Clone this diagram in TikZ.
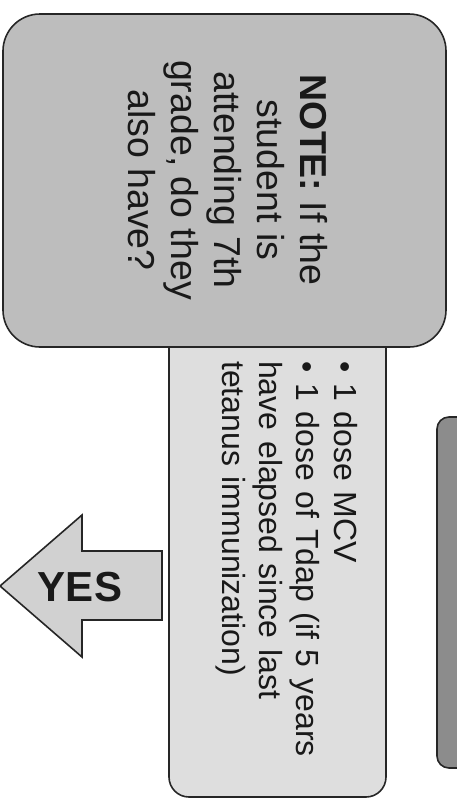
\documentclass[tikz,border=0pt]{standalone}
\usepackage{fontspec}
\setmainfont{Liberation Sans}
\begin{document}
\begin{tikzpicture}[x=1pt,y=-1pt,
    box/.style={draw=black!85,line width=1.6pt,rounded corners=#1},
    label/.style={text=black!90,inner sep=0pt}]
    \useasboundingbox (0,0) rectangle (457,804);
    \begin{scope}
        \clip (0,0) rectangle (457,804);
        \draw[box=12pt,fill=black!45] (437,417) rectangle (480,768);
    \end{scope}
    \draw[box=20pt,fill=black!13] (169,300) rectangle (386,797);
    \draw[box=37pt,fill=black!26] (3,14) rectangle (446,347);
    \draw[draw=black!85,line width=1.6pt,fill=black!18] (0,586) -- (82,515) -- (82,551) -- (162,551)
        -- (162,620) -- (82,620) -- (82,657) -- cycle;
    \node[label,rotate=-90,font=\fontsize{37.5}{43}\selectfont,align=center] (note) at (228,180)
        {\textbf{NOTE:} If the\\student is\\attending 7th\\grade, do they\\also have?};
    \node[label,rotate=-90,font=\fontsize{32}{37.3}\selectfont,text width=400pt,anchor=base west] (doses) at (334,361)
        {\parindent=0pt\makebox[22pt][l]{\textbullet}1 dose MCV\par
         \hangindent=22pt\hangafter=1\makebox[22pt][l]{\textbullet}1 dose of Tdap (if 5 years have elapsed since last tetanus immunization)};
    \node[label,font=\fontsize{42}{48}\selectfont\bfseries] (yes) at (80,587) {YES};
\end{tikzpicture}
\end{document}
